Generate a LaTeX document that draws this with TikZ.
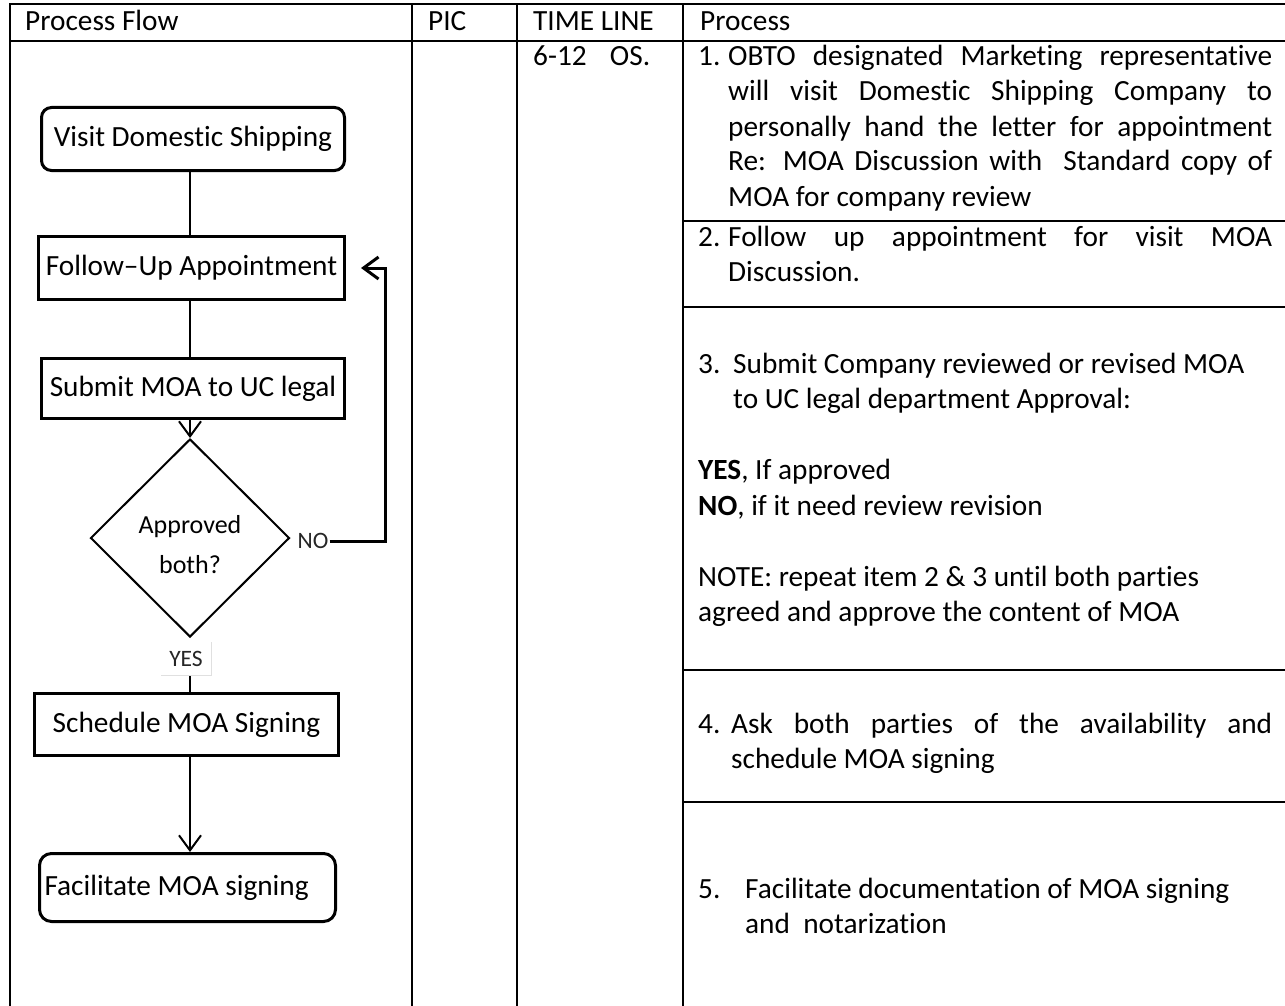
\documentclass[tikz,border=0pt]{standalone}
\usepackage{fontspec}
\setmainfont{Carlito}[Ligatures=CommonOff]
\usetikzlibrary{shapes.geometric,arrows.meta}
\newcommand{\bodyfont}{\fontsize{29.3}{35.5}\selectfont}
\newcommand{\smallfont}{\fontsize{26}{40}\selectfont}
\newcommand{\tinyfont}{\fontsize{23.5}{26}\selectfont}
\begin{document}
\begin{tikzpicture}[x=1pt,y=-1pt,
  tbl/.style={line width=1.8pt},
  fbox/.style={draw,line width=3pt,inner sep=0pt,font=\bodyfont,align=center},
  rbox/.style={fbox,rounded corners=10pt},
  conn/.style={line width=2pt},
  tip/.style={-{Straight Barb[length=15pt,width=22pt]}},
  txt/.style={anchor=base west,inner sep=0pt,font=\bodyfont},
  lbl/.style={fill=white,inner sep=1pt,font=\tinyfont,text=black!85}
]
\useasboundingbox (0,0) rectangle (1285,1006);
% table
\draw[tbl] (10,1006) -- (10,4) -- (1285,4);
\draw[tbl] (10,41) -- (1285,41);
\draw[tbl] (412,4) -- (412,1006);
\draw[tbl] (517,4) -- (517,1006);
\draw[tbl] (683,4) -- (683,1006);
\draw[tbl] (683,221) -- (1285,221);
\draw[tbl] (683,307) -- (1285,307);
\draw[tbl] (683,670) -- (1285,670);
\draw[tbl] (683,802) -- (1285,802);
% headers
\node[txt] (h1) at (25,31) {Process Flow};
\node[txt] (h2) at (428,31) {PIC};
\node[txt] (h3) at (533,31) {TIME LINE};
\node[txt] (h4) at (700,31) {Process};
\node[txt] (tl) at (533,66) {\makebox[117pt][s]{6-12 OS.}};
% item 1
\node[txt] (n1) at (698,66) {1.};
\node[txt] (p1a) at (728,66) {\makebox[544pt][s]{OBTO designated Marketing representative}};
\node[txt] (p1b) at (728,101) {\makebox[544pt][s]{will visit Domestic Shipping Company to}};
\node[txt] (p1c) at (728,136) {\makebox[544pt][s]{personally hand the letter for appointment}};
\node[txt] (p1d) at (728,171) {\makebox[544pt][s]{Re: MOA Discussion with\ \ Standard copy of}};
\node[txt] (p1e) at (728,206) {MOA for company review};
% item 2
\node[txt] (n2) at (698,246) {2.};
\node[txt] (p2a) at (728,246) {\makebox[544pt][s]{Follow up appointment for visit MOA}};
\node[txt] (p2b) at (728,281) {Discussion.};
% item 3
\node[txt] (n3) at (698,373) {3.};
\node[txt] (p3a) at (733,373) {Submit Company reviewed or revised MOA};
\node[txt] (p3b) at (733,408.5) {to UC legal department Approval:};
\node[txt] (p3c) at (698,479.5) {\textbf{YES}, If approved};
\node[txt] (p3d) at (698,515) {\textbf{NO}, if it need review revision};
\node[txt] (p3e) at (698,586) {NOTE: repeat item 2 \& 3 until both parties};
\node[txt] (p3f) at (698,621.5) {agreed and approve the content of MOA};
% item 4
\node[txt] (n4) at (698,733) {4.};
\node[txt] (p4a) at (731,733) {\makebox[541pt][s]{Ask both parties of the availability and}};
\node[txt] (p4b) at (731,768) {schedule MOA signing};
% item 5
\node[txt] (n5) at (698,898) {5.};
\node[txt] (p5a) at (745,898) {Facilitate documentation of MOA signing};
\node[txt] (p5b) at (745,933) {and\ \ notarization};
% flowchart
\node[rbox,minimum width=303pt,minimum height=63pt] (visit) at (193,139) {Visit Domestic Shipping};
\node[fbox,minimum width=306pt,minimum height=63pt] (follow) at (191.5,268) {Follow--Up Appointment};
\node[fbox,minimum width=303pt,minimum height=60pt] (submit) at (193,388.5) {Submit MOA to UC legal};
\node[draw,diamond,line width=2pt,minimum width=199pt,minimum height=198pt,inner sep=0pt] (d) at (190,538) {};
\node[font=\smallfont,align=center,inner sep=0pt] (dq) at (190,545) {Approved\\both?};
\node[fbox,minimum width=304pt,minimum height=62pt] (sched) at (186.5,724.5) {Schedule MOA Signing};
\node[rbox,minimum width=296pt,minimum height=68pt,text width=286pt,align=flush left,rounded corners=12pt] (fac) at (187.5,887.5) {Facilitate MOA signing};
\coordinate (nc) at (385,268);
\node[lbl] (no) at (313,541) {NO};
\node[lbl,minimum width=50pt,minimum height=33pt,inner sep=0pt] (yes) at (186,659) {YES};
% connectors
\draw[conn] (visit.south -| d) -- (follow.north -| d);
\draw[conn] (follow.south -| d) -- (submit.north -| d);
\draw[conn,tip] (submit.south -| d) -- (d.north);
\draw[line width=3pt,-{Straight Barb[length=15pt,width=22pt]},shorten >=15pt] (no.east) -| (nc) -- (follow.east);
\draw[conn] (yes.south -| d) -- (sched.north -| d);
\draw[conn,tip] (sched.south -| d) -- (fac.north -| d);
\draw[black!12,line width=1pt] (yes.north east) -- (yes.south east) -- (yes.south west);
\end{tikzpicture}
\end{document}
